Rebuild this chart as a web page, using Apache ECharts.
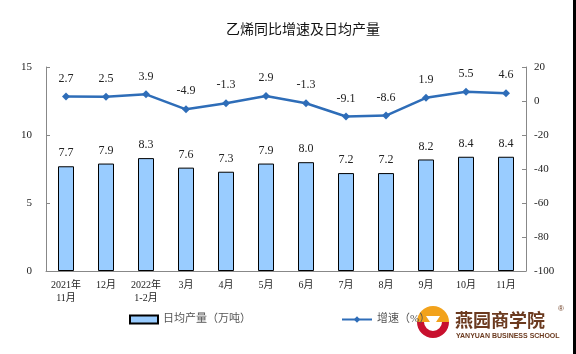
<!DOCTYPE html>
<html>
<head>
<meta charset="utf-8">
<title>index</title>
<style>
  html, body { margin: 0; padding: 0; background: #fff; }
  #container { width: 576px; height: 354px; }
</style>
</head>
<body>
<div id="container"></div>
<script src="https://cdn.jsdelivr.net/npm/echarts@6/dist/echarts.min.js"></script>
<script type="text/javascript">
  // 数据
  var months = ["2021年\n11月", "12月", "2022年\n1-2月", "3月", "4月", "5月", "6月", "7月", "8月", "9月", "10月", "11月"];
  var output = [7.7, 7.9, 8.3, 7.6, 7.3, 7.9, 8.0, 7.2, 7.2, 8.2, 8.4, 8.4];
  var growth = [2.7, 2.5, 3.9, -4.9, -1.3, 2.9, -1.3, -9.1, -8.6, 1.9, 5.5, 4.6];

  var serif = "'Liberation Serif', 'Noto Sans CJK SC', serif";
  var myChart = echarts.init(document.getElementById("container"));

  var option = {
    backgroundColor: "#fff",
    animation: false,
    title: {
      text: "乙烯同比增速及日均产量",
      left: 298,
      top: 17,
      textAlign: "center",
      textStyle: { fontSize: 14, fontWeight: "normal", color: "#111", fontFamily: "'Noto Sans CJK SC', sans-serif" }
    },
    legend: [{
      data: [{ name: "日均产量（万吨）", icon: "rect" }],
      left: 124, top: 309,
      itemWidth: 28, itemHeight: 8, itemGap: 4,
      textStyle: { fontSize: 11, color: "#555", fontFamily: serif }
    }, {
      data: ["增速（%）"],
      left: 336, top: 309,
      itemWidth: 30, itemHeight: 8, itemGap: 4,
      textStyle: { fontSize: 11, color: "#555", fontFamily: serif }
    }],
    grid: { left: 46, right: 50, top: 67, bottom: 83 },
    xAxis: {
      type: "category",
      data: months,
      axisLine: { lineStyle: { color: "#888" } },
      axisTick: { inside: true, length: 4, lineStyle: { color: "#888" } },
      axisLabel: { color: "#222", fontSize: 10, fontFamily: serif, interval: 0, lineHeight: 13, margin: 8 }
    },
    yAxis: [{
      type: "value", min: 0, max: 15, interval: 5,
      splitLine: { show: false },
      axisLine: { show: true, lineStyle: { color: "#888" } },
      axisTick: { show: true, inside: true, length: 4, lineStyle: { color: "#888" } },
      axisLabel: { color: "#222", fontSize: 11, fontFamily: serif, margin: 14 }
    }, {
      type: "value", min: -100, max: 20, interval: 20,
      splitLine: { show: false },
      axisLine: { show: true, lineStyle: { color: "#888" } },
      axisTick: { show: true, inside: true, length: 4, lineStyle: { color: "#888" } },
      axisLabel: { color: "#222", fontSize: 11, fontFamily: serif, margin: 8 }
    }],
    series: [{
      name: "日均产量（万吨）",
      type: "bar",
      data: output,
      barWidth: 16,
      itemStyle: { color: "#99CCFF", borderColor: "#000", borderWidth: 1 },
      label: {
        show: true, position: "top", distance: 7, color: "#222", fontSize: 12, fontFamily: serif,
        formatter: function (p) { return p.value.toFixed(1); }
      }
    }, {
      name: "增速（%）",
      type: "line",
      yAxisIndex: 1,
      data: growth,
      symbol: "diamond",
      symbolSize: 8,
      lineStyle: { color: "#2E6DB8", width: 2.5 },
      itemStyle: { color: "#2E6DB8" },
      label: {
        show: true, position: "top", distance: 8, color: "#222", fontSize: 12, fontFamily: serif,
        formatter: function (p) { return p.value.toFixed(1); }
      }
    }],
    graphic: [
      // 右侧黑边
      { type: "rect", shape: { x: 573, y: 0, width: 3, height: 354 }, style: { fill: "#000" } },
      // logo
      { type: "sector", shape: { cx: 433, cy: 322, r0: 0, r: 16, startAngle: Math.PI, endAngle: 2 * Math.PI }, style: { fill: "#F2A21B" } },
      { type: "sector", shape: { cx: 433, cy: 322, r0: 9, r: 16, startAngle: 0, endAngle: Math.PI }, style: { fill: "#C8102E" } },
      { type: "polygon", shape: { points: [[426, 316], [440, 316], [436, 322], [433, 330], [430, 322]] }, style: { fill: "#fff" } },
      { type: "text", left: 455, top: 311, style: { text: "燕园商学院", fontSize: 18, fontWeight: "bold", fill: "#6B3A1F", fontFamily: "'Noto Sans CJK SC', sans-serif" } },
      { type: "text", left: 456, top: 333, style: { text: "YANYUAN BUSINESS SCHOOL", fontSize: 7, fontWeight: "bold", fill: "#6B3A1F", fontFamily: "'Liberation Sans', sans-serif" } },
      { type: "text", left: 558, top: 305, style: { text: "®", fontSize: 8, fill: "#6B3A1F" } }
    ]
  };
  myChart.setOption(option);
</script>
</body>
</html>
